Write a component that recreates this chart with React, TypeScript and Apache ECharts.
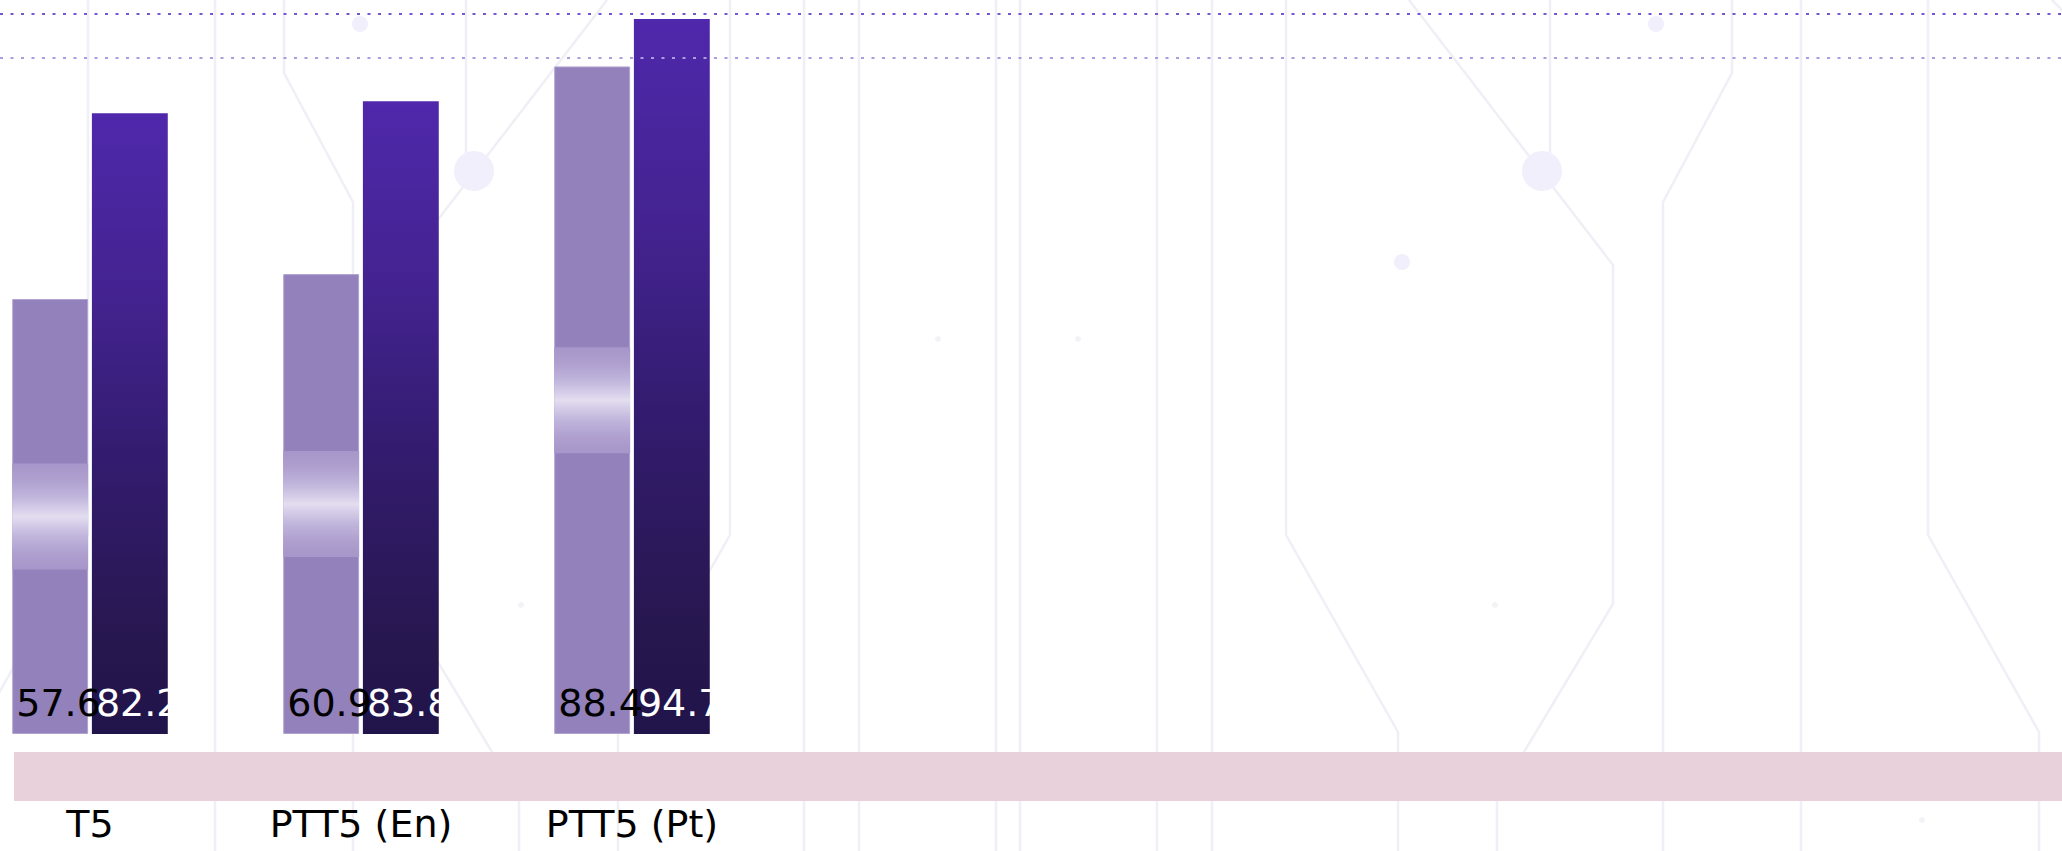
import React, { useEffect, useRef } from 'react';
import * as echarts from 'echarts';

// ---- data ----
const categories = ['T5', 'PTT5 (En)', 'PTT5 (Pt)'];
const baseScores = [57.6, 60.9, 88.4];
const tunedScores = [82.2, 83.8, 94.7];
const referenceLevels = [95.4, 89.5];

// ---- layout / style constants ----
const WIDTH = 2062;
const HEIGHT = 851;
const Y_MAX = 97.2;
const BAR_WIDTH_RATIO = 0.28;
const BAR_GAP_RATIO = 0.05;
const GLOW_HEIGHT = 106;
const FONT = 'DejaVu Sans';

// Decorative circuit traces (right half; the left half is mirrored about MIRROR_X)
const MIRROR_X = 1008;
const traces: number[][][] = [
  [[1020, 0], [1020, 851]],
  [[1157, 0], [1157, 851]],
  [[1212, 0], [1212, 851]],
  [[1286, 0], [1286, 535], [1398, 732], [1398, 851]],
  [[1409, 0], [1613, 265], [1613, 604], [1524, 752], [1497, 797], [1497, 851]],
  [[1550, 0], [1550, 163]],
  [[1732, 0], [1732, 73], [1663, 202], [1663, 851]],
  [[1801, 0], [1801, 851]],
  [[1928, 0], [1928, 535], [2039, 732], [2039, 851]],
  [[2052, 0], [2100, 48]],
];
const nodes: number[][] = [
  [1542, 171, 20],
  [1656, 24, 8],
  [1402, 262, 8],
  [1495, 605, 3],
  [1922, 820, 3],
  [1078, 339, 3],
];

function buildBackground() {
  const els: any[] = [];
  const mirror = (p: number[]) => [2 * MIRROR_X - p[0], p[1]];
  traces.forEach((pts) => {
    [pts, pts.map(mirror)].forEach((points) => {
      els.push({
        type: 'polyline',
        silent: true,
        z: -10,
        shape: { points },
        style: { stroke: '#f0eff5', lineWidth: 2.5, fill: null },
      });
    });
  });
  nodes.forEach(([cx, cy, r]) => {
    [cx, 2 * MIRROR_X - cx].forEach((x) => {
      els.push({
        type: 'circle',
        silent: true,
        z: -9,
        shape: { cx: x, cy, r },
        style: { fill: r > 5 ? '#f2effc' : '#f3f3f7' },
      });
    });
  });
  // pink strip under the category axis
  els.push({
    type: 'rect',
    silent: true,
    z: 1,
    shape: { x: 14, y: 752, width: WIDTH, height: 49 },
    style: { fill: '#e9d1dc' },
  });
  return els;
}

export default function App() {
  const ref = useRef<HTMLDivElement>(null);

  useEffect(() => {
    if (!ref.current) return;
    const chart = echarts.init(ref.current, undefined, { renderer: 'svg' });

    const glowGradient = () =>
      new echarts.graphic.LinearGradient(0, 0, 0, 1, [
        { offset: 0, color: '#a696c9' },
        { offset: 0.15, color: '#ae9fcf' },
        { offset: 0.32, color: '#c1b6dc' },
        { offset: 0.5, color: '#e3ddf0' },
        { offset: 0.68, color: '#c1b6dc' },
        { offset: 0.85, color: '#ae9fcf' },
        { offset: 1, color: '#a696c9' },
      ]);

    const option: any = {
      animation: false,
      backgroundColor: '#ffffff',
      textStyle: { fontFamily: FONT },
      graphic: { elements: buildBackground() },
      grid: [
        { left: -45.5, width: 813, top: 0, bottom: HEIGHT - 734, outerBoundsMode: 'none', containLabel: false },
        { left: 0, right: 0, top: 0, bottom: HEIGHT - 734, outerBoundsMode: 'none', containLabel: false },
      ],
      xAxis: [
        {
          type: 'category',
          gridIndex: 0,
          data: categories,
          axisLine: { show: false },
          axisTick: { show: false },
          splitLine: { show: false },
          axisLabel: { fontSize: 38, color: '#000', margin: 71, fontFamily: FONT },
        },
        { type: 'value', gridIndex: 1, min: 0, max: 1, show: false },
      ],
      yAxis: [
        { type: 'value', gridIndex: 0, min: 0, max: Y_MAX, show: false, splitLine: { show: false } },
        { type: 'value', gridIndex: 1, min: 0, max: Y_MAX, show: false, splitLine: { show: false } },
      ],
      series: [
        {
          name: 'Base',
          type: 'bar',
          xAxisIndex: 0,
          yAxisIndex: 0,
          data: baseScores,
          barWidth: `${BAR_WIDTH_RATIO * 100}%`,
          barGap: `${BAR_GAP_RATIO * 100}%`,
          itemStyle: { color: '#9381bb', borderColor: '#b0a3d2', borderWidth: 1 },
          label: {
            show: true,
            position: 'insideBottomLeft',
            distance: 4,
            offset: [0, -8],
            fontSize: 38,
            color: '#000',
            fontFamily: FONT,
          },
        },
        {
          name: 'Tuned',
          type: 'bar',
          xAxisIndex: 0,
          yAxisIndex: 0,
          data: tunedScores,
          barWidth: `${BAR_WIDTH_RATIO * 100}%`,
          barGap: `${BAR_GAP_RATIO * 100}%`,
          itemStyle: {
            color: new echarts.graphic.LinearGradient(0, 0, 0, 1, [
              { offset: 0, color: '#4f28ab' },
              { offset: 0.3, color: '#43238f' },
              { offset: 0.55, color: '#331c6f' },
              { offset: 0.85, color: '#27174f' },
              { offset: 1, color: '#20144a' },
            ]),
          },
          label: {
            show: true,
            position: 'insideBottomLeft',
            distance: 4,
            offset: [0, -8],
            fontSize: 38,
            color: '#fff',
            fontFamily: FONT,
          },
        },
        {
          // sheen across the middle of each base bar
          name: 'sheen',
          type: 'custom',
          xAxisIndex: 0,
          yAxisIndex: 0,
          z: 3,
          silent: true,
          data: baseScores.map((v, i) => [i, v]),
          renderItem: (_params: any, api: any) => {
            const i = api.value(0);
            const v = api.value(1);
            const top = api.coord([i, v]);
            const base = api.coord([i, 0]);
            const band = api.size([1, 0])[0];
            const barW = band * BAR_WIDTH_RATIO;
            const gap = barW * BAR_GAP_RATIO;
            const x = top[0] - gap / 2 - barW;
            const midY = (top[1] + base[1]) / 2;
            return {
              type: 'rect',
              shape: { x, y: midY - GLOW_HEIGHT / 2, width: barW, height: GLOW_HEIGHT },
              style: { fill: glowGradient() },
            };
          },
        },
        {
          // carrier for the full-width reference lines
          name: 'reference',
          type: 'scatter',
          xAxisIndex: 1,
          yAxisIndex: 1,
          symbolSize: 0,
          silent: true,
          data: [[0, 0]],
          itemStyle: { opacity: 0 },
          markLine: {
            silent: true,
            symbol: ['none', 'none'],
            label: { show: false },
            data: referenceLevels.map((y, k) => ({
              yAxis: y,
              lineStyle: {
                color: k === 0 ? '#7557d3' : '#ab9de1',
                width: 2,
                type: [3, 7.5],
              },
            })),
          },
        },
      ],
    };

    chart.setOption(option);
    return () => chart.dispose();
  }, []);

  return (
    <div
      ref={ref}
      style={{ position: 'fixed', left: 0, top: 0, width: WIDTH, height: HEIGHT, background: '#fff' }}
    />
  );
}
